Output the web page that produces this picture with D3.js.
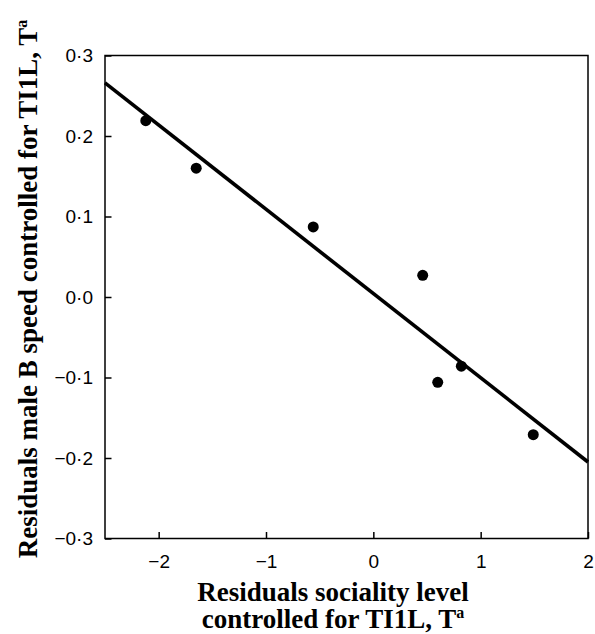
<!DOCTYPE html>
<html>
<head>
<meta charset="utf-8">
<script src="https://cdn.jsdelivr.net/npm/d3@7"></script>
<style>
  body { margin: 0; background: #fff; }
  .tick text { font-family: "Liberation Sans", Arial, sans-serif; font-size: 19px; fill: #000; }
  .title { font-family: "Liberation Serif", "Times New Roman", serif; font-weight: bold; font-size: 27px; fill: #000; }
</style>
</head>
<body>
<script>
// residual points
var xVals = [-2.12, -1.65, -0.56, 0.46, 0.60, 0.82, 1.49];
var yVals = [0.219, 0.160, 0.087, 0.027, -0.106, -0.086, -0.171];

// fitted regression line end points
var lineX = [-2.5, 2];
var lineY = [0.266, -0.205];

var xTicks = [-2, -1, 0, 1, 2];
var yTicks = [-0.3, -0.2, -0.1, 0.0, 0.1, 0.2, 0.3];

var width = 595,
    height = 634;

var svg = d3.select("body")
    .append("svg")
    .attr("width", width)
    .attr("height", height);

var plotL = 105, plotR = 588, plotT = 55.5, plotB = 538.5;

var x = d3.scaleLinear().domain([-2.5, 2]).range([plotL, plotR]);
var y = d3.scaleLinear().domain([-0.3, 0.3]).range([plotB, plotT]);

//frame
svg.append("rect")
    .attr("x", plotL)
    .attr("y", plotT)
    .attr("width", plotR - plotL)
    .attr("height", plotB - plotT)
    .attr("fill", "none")
    .attr("stroke", "#000")
    .attr("stroke-width", 1.5);

var fmtY = function(d){ return d3.format(".1f")(d).replace(".", "\u00b7"); };

var xAxis = svg.append("g")
    .attr("transform", "translate(0," + plotB + ")")
    .call(d3.axisBottom(x).tickValues(xTicks).tickSizeInner(-6.5).tickSizeOuter(0).tickPadding(16).tickFormat(d3.format("d")));

var yAxis = svg.append("g")
    .attr("transform", "translate(" + plotL + ",0)")
    .call(d3.axisLeft(y).tickValues(yTicks).tickSizeInner(-6.5).tickSizeOuter(0).tickPadding(12).tickFormat(fmtY));

[xAxis, yAxis].forEach(function(g){
    g.select(".domain").remove();
    g.selectAll(".tick line").attr("stroke", "#000").attr("stroke-width", 1.5);
});
xAxis.selectAll(".tick text").attr("dy", "0.71em");

//regression line
svg.append("path")
    .datum(d3.zip(lineX, lineY))
    .attr("d", d3.line().x(function(d){ return x(d[0]); }).y(function(d){ return y(d[1]); }))
    .attr("stroke", "#000")
    .attr("stroke-width", 3.6)
    .attr("fill", "none");

//points
svg.selectAll(".pt")
    .data(d3.zip(xVals, yVals))
    .enter()
    .append("circle")
    .attr("class", "pt")
    .attr("cx", function(d){ return x(d[0]); })
    .attr("cy", function(d){ return y(d[1]); })
    .attr("r", 5.5)
    .attr("fill", "#000");

//x title
var xt = svg.append("text")
    .attr("class", "title")
    .attr("text-anchor", "middle");
xt.append("tspan").attr("x", 333).attr("y", 601).text("Residuals sociality level");
var l2 = xt.append("tspan").attr("x", 333).attr("y", 628).text("controlled for TI1L, T");
l2.append("tspan").attr("font-size", "16px").attr("dy", "-10").text("a");

//y title
var yt = svg.append("text")
    .attr("class", "title")
    .attr("text-anchor", "middle")
    .attr("font-size", "28px")
    .attr("transform", "translate(37,289) rotate(-90)");
yt.append("tspan").text("Residuals male B speed controlled for TI1L, T");
yt.append("tspan").attr("font-size", "16px").attr("dy", "-10").text("a");
</script>
</body>
</html>
